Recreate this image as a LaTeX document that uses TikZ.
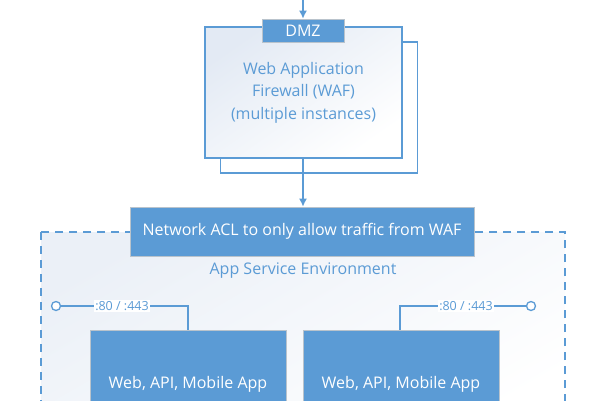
\documentclass[tikz,border=0pt]{standalone}
\usepackage{fontspec}
\setmainfont{Open Sans}
\usetikzlibrary{arrows.meta}
\definecolor{azblue}{HTML}{5B9BD5}
\definecolor{azpale}{HTML}{E3EAF4}
\definecolor{azedge}{HTML}{B9C3CC}
\begin{document}
\begin{tikzpicture}[x=1pt,y=-1pt,
    link/.style={draw=azblue, line width=1.3pt},
    flow/.style={link, -{Latex[length=8pt,width=8pt]}},
    bluebox/.style={fill=azblue, draw=azedge, line width=0.8pt, text=white,
      inner sep=0pt, font=\fontsize{16}{18}\selectfont},
    wafbox/.style={draw=azblue, line width=1.2pt, inner sep=0pt,
      minimum width=197pt, minimum height=131pt},
    port/.style={circle, draw=azblue, line width=1.3pt, fill=white,
      inner sep=0pt, minimum size=9pt},
    portlabel/.style={fill=white, text=azblue, inner sep=1pt,
      font=\fontsize{12.5}{14}\selectfont}]
    \useasboundingbox (0,0) rectangle (600,400);
    \clip (0,0) rectangle (600,400);
    % App Service Environment boundary
    \shade[top color=azpale!70, bottom color=white, shading angle=30]
      (41,232) rectangle (565,440);
    \draw[azblue, line width=1.2pt, dash pattern=on 8pt off 6pt]
      (41,232) rectangle (565,440);
    \node[text=azblue, font=\fontsize{16}{18}\selectfont] (envlabel) at (303,271) {App Service Environment};
    % WAF instances
    \node[wafbox, fill=white] (wafback) at (319,107.5) {};
    \node[wafbox, top color=azpale, bottom color=white, shading angle=35,
      align=center, text=azblue, font=\fontsize{16}{22.5}\selectfont] (waf) at (303.5,92.5)
      {Web Application\\Firewall (WAF)\\(multiple instances)};
    \node[bluebox, minimum width=82pt, minimum height=23pt] (dmz) at (303,30.5) {DMZ};
    \coordinate (inet) at (303,0);
    \draw[flow] (inet) -- (dmz.north);
    % network ACL
    \node[bluebox, minimum width=344pt, minimum height=49pt] (acl) at (302,231.5)
      {Network ACL to only allow traffic from WAF};
    \draw[flow] (waf.south -| dmz.south) -- (acl.north -| dmz.south);
    % apps
    \node[bluebox, minimum width=196pt, minimum height=108pt] (appleft) at (188,384) {Web, API, Mobile App};
    \node[bluebox, minimum width=196pt, minimum height=108pt] (appright) at (401,384) {Web, API, Mobile App};
    % endpoints
    \node[port] (portleft) at (56,306) {};
    \node[port] (portright) at (531,306) {};
    \draw[link] (portleft) -| (appleft.north);
    \draw[link] (portright) -| ([xshift=-1pt]appright.north);
    \node[portlabel] (lblleft) at (122,306) {:80 / :443};
    \node[portlabel] (lblright) at (466,306) {:80 / :443};
\end{tikzpicture}
\end{document}
